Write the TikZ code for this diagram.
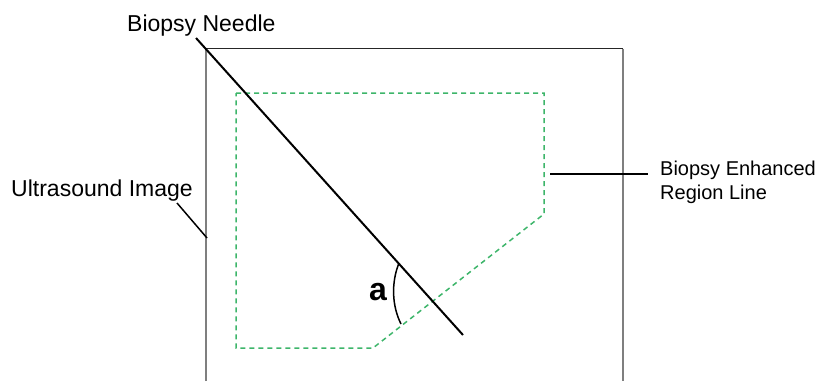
\documentclass[tikz,border=0pt]{standalone}
\usepackage{fontspec}
\setmainfont{Liberation Sans}
\definecolor{regiongreen}{HTML}{3DB56A}
\definecolor{bordergray}{HTML}{7F7F7F}
\begin{document}
\begin{tikzpicture}[x=1pt,y=-1pt,
  lbl/.style={inner sep=0pt, font=\fontsize{23}{24}\selectfont},
  leader/.style={draw=black, line width=1.5pt},
  needle/.style={draw=black, line width=2pt},
  region/.style={draw=regiongreen, line width=1.5pt, dash pattern=on 5pt off 4pt},
  frame/.style={draw=bordergray, line width=1.5pt},
  frametop/.style={draw=black!85, line width=1.5pt}]
\useasboundingbox (0,0) rectangle (817,381);
% ultrasound image frame (open at bottom)
\coordinate (fbl) at (206,381);
\coordinate (ftl) at (206,48.5);
\coordinate (ftr) at (623,48.5);
\coordinate (fbr) at (623,381);
\draw[frame] (fbl) -- (ftl);
\draw[frametop] (ftl) -- (ftr);
\draw[frame] (ftr) -- (fbr);
% biopsy enhanced region line
\coordinate (r1) at (236,93);
\coordinate (r2) at (544,93);
\coordinate (r3) at (544,214);
\coordinate (r4) at (373,348);
\coordinate (r5) at (236,348);
\draw[region] (r1) -- (r2) -- (r3) -- (r4) -- (r5) -- cycle;
% needle
\coordinate (n1) at (196,38);
\coordinate (n2) at (463,335);
\draw[needle] (n1) -- (n2);
% angle arc
\coordinate (a1) at (399,263);
\coordinate (a2) at (401,324);
\draw[black, line width=1.5pt] (a1) .. controls (391,283) and (392,306) .. (a2);
\node[inner sep=0pt, font=\fontsize{32}{32}\selectfont\bfseries, anchor=base] (alab) at (378,300) {a};
% labels
\node[lbl, anchor=base west] (needlelab) at (127,31.5) {Biopsy Needle};
\node[lbl, anchor=base west] (uslab) at (11,196.5) {Ultrasound Image};
\node[lbl, anchor=north west, align=left, font=\fontsize{20}{24}\selectfont] (reglab) at (660,160.5) {Biopsy Enhanced\\Region Line};
% leaders
\coordinate (usend) at (207,238);
\coordinate (usstart) at (177,203);
\draw[leader] (usstart) -- (usend);
\coordinate (regstart) at (550,174);
\coordinate (regend) at (648,174);
\draw[leader] (regstart) -- (regend);
\end{tikzpicture}
\end{document}
